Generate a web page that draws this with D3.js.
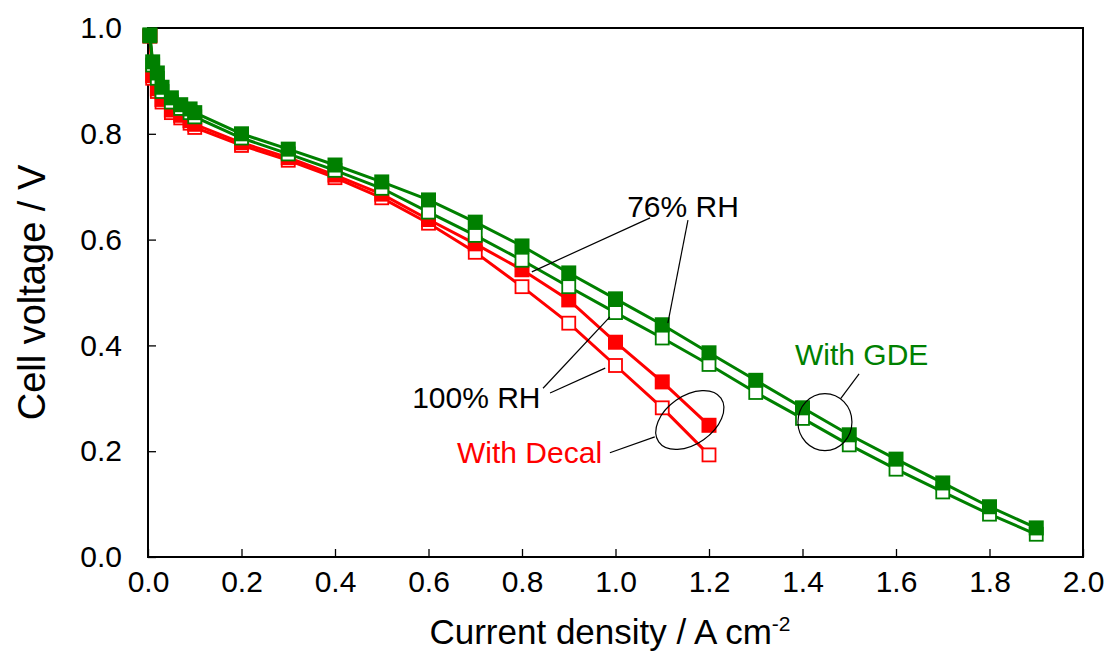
<!DOCTYPE html>
<html>
<head>
<meta charset="utf-8">
<script src="https://cdn.jsdelivr.net/npm/d3@7.9.0/dist/d3.min.js"></script>
<style>
  body { margin: 0; background: #fff; }
  svg { display: block; font-family: "Liberation Sans", Arial, sans-serif; }
</style>
</head>
<body>
<svg width="1107" height="655"></svg>
<script>
// current density (A cm-2) for each cell
const currentGDE = [0.004, 0.01, 0.02, 0.03, 0.05, 0.07, 0.09, 0.1, 0.2, 0.3, 0.4, 0.5, 0.6, 0.7, 0.8, 0.9, 1.0, 1.1, 1.2, 1.3, 1.4, 1.5, 1.6, 1.7, 1.8, 1.9];
const currentDecal = [0.004, 0.01, 0.02, 0.03, 0.05, 0.07, 0.09, 0.1, 0.2, 0.3, 0.4, 0.5, 0.6, 0.7, 0.8, 0.9, 1.0, 1.1, 1.2];

// cell voltage (V)
const gde76 = [0.987, 0.936, 0.915, 0.888, 0.868, 0.855, 0.847, 0.840, 0.800, 0.771, 0.741, 0.709, 0.675, 0.633, 0.588, 0.537, 0.488, 0.439, 0.386, 0.334, 0.282, 0.231, 0.185, 0.140, 0.095, 0.055];
const gde100 = [0.985, 0.930, 0.905, 0.880, 0.860, 0.848, 0.840, 0.832, 0.792, 0.762, 0.731, 0.697, 0.652, 0.608, 0.561, 0.511, 0.462, 0.414, 0.364, 0.311, 0.262, 0.212, 0.166, 0.123, 0.081, 0.043];
const decal76 = [0.985, 0.910, 0.885, 0.865, 0.845, 0.835, 0.825, 0.818, 0.783, 0.755, 0.722, 0.686, 0.638, 0.592, 0.543, 0.486, 0.406, 0.331, 0.249];
const decal100 = [0.985, 0.905, 0.880, 0.860, 0.840, 0.830, 0.820, 0.812, 0.778, 0.750, 0.717, 0.679, 0.631, 0.576, 0.511, 0.442, 0.362, 0.282, 0.193];

const xTicks = [0, 0.2, 0.4, 0.6, 0.8, 1.0, 1.2, 1.4, 1.6, 1.8, 2.0];
const yTicks = [0, 0.2, 0.4, 0.6, 0.8, 1.0];

const red = '#ff0000';
const green = '#008000';

// drawing order: red first, green on top; open markers under filled ones
const series = [
  { x: currentDecal, y: decal100, color: red, filled: false },
  { x: currentDecal, y: decal76, color: red, filled: true },
  { x: currentGDE, y: gde100, color: green, filled: false },
  { x: currentGDE, y: gde76, color: green, filled: true }
];

const margin = { left: 148, top: 28, right: 24, bottom: 98 };
const W = 1107, H = 655;

const x = d3.scaleLinear().domain([0, 2]).range([margin.left, W - margin.right]);
const y = d3.scaleLinear().domain([0, 1]).range([H - margin.bottom, margin.top]);

const svg = d3.select('svg');

// axes with inward ticks
const xAxis = svg.append('g')
  .attr('transform', `translate(0,${y(0)})`)
  .call(d3.axisBottom(x).tickValues(xTicks).tickFormat(d3.format('.1f')).tickSizeInner(-8).tickSizeOuter(0).tickPadding(14));
const yAxis = svg.append('g')
  .attr('transform', `translate(${x(0)},0)`)
  .call(d3.axisLeft(y).tickValues(yTicks).tickFormat(d3.format('.1f')).tickSizeInner(-8).tickSizeOuter(0).tickPadding(26));

[xAxis, yAxis].forEach(g => {
  g.select('.domain').remove();
  g.selectAll('.tick line').attr('stroke', '#000').attr('stroke-width', 1.3);
  g.selectAll('.tick text').attr('fill', '#000').style('font-size', '30px');
});
xAxis.selectAll('.tick text').attr('dy', '0.71em');

// frame
svg.append('rect')
  .attr('x', x(0)).attr('y', y(1))
  .attr('width', x(2) - x(0)).attr('height', y(0) - y(1))
  .attr('fill', 'none').attr('stroke', '#000').attr('stroke-width', 2);

// series
const line = d3.line().x(d => x(d[0])).y(d => y(d[1]));
const ms = 15;
series.forEach(s => {
  const pts = s.x.map((v, i) => [v, s.y[i]]);
  svg.append('path')
    .datum(pts)
    .attr('d', line)
    .attr('fill', 'none')
    .attr('stroke', s.color)
    .attr('stroke-width', 3);
  const size = s.filled ? ms : ms - 2;
  svg.append('g').selectAll('rect')
    .data(pts)
    .join('rect')
    .attr('x', d => x(d[0]) - size / 2)
    .attr('y', d => y(d[1]) - size / 2)
    .attr('width', size)
    .attr('height', size)
    .attr('fill', s.filled ? s.color : '#fff')
    .attr('stroke', s.color)
    .attr('stroke-width', s.filled ? 0 : 1.8);
});

// annotations, placed in data units
const labels = [
  { text: '76% RH', at: [1.025, 0.643], color: '#000' },
  { text: '100% RH', at: [0.565, 0.282], color: '#000' },
  { text: 'With Decal', at: [0.661, 0.178], color: red },
  { text: 'With GDE', at: [1.384, 0.363], color: green }
];
const leaders = [
  [[1.074, 0.641], [0.821, 0.539]],
  [[1.155, 0.637], [1.112, 0.442]],
  [[0.845, 0.319], [0.988, 0.454]],
  [[0.860, 0.310], [0.978, 0.357]],
  [[0.988, 0.197], [1.084, 0.227]],
  [[1.482, 0.300], [1.521, 0.346]]
];
const ellipses = [
  { c: [1.159, 0.259], rx: 38, ry: 24, rot: -35 },
  { c: [1.448, 0.255], rx: 27, ry: 28.5, rot: 0 }
];

svg.append('g').selectAll('line')
  .data(leaders)
  .join('line')
  .attr('x1', d => x(d[0][0])).attr('y1', d => y(d[0][1]))
  .attr('x2', d => x(d[1][0])).attr('y2', d => y(d[1][1]))
  .attr('stroke', '#000').attr('stroke-width', 1.2);

svg.append('g').selectAll('ellipse')
  .data(ellipses)
  .join('ellipse')
  .attr('transform', d => `translate(${x(d.c[0])},${y(d.c[1])}) rotate(${d.rot})`)
  .attr('rx', d => d.rx).attr('ry', d => d.ry)
  .attr('fill', 'none').attr('stroke', '#000').attr('stroke-width', 1.2);

svg.append('g').selectAll('text')
  .data(labels)
  .join('text')
  .attr('x', d => x(d.at[0])).attr('y', d => y(d.at[1]))
  .attr('fill', d => d.color)
  .style('font-size', '30px')
  .text(d => d.text);

// axis titles
const xTitle = svg.append('text')
  .attr('x', 610)
  .attr('y', 644)
  .attr('text-anchor', 'middle')
  .style('font-size', '35px');
xTitle.append('tspan').text('Current density / A cm');
xTitle.append('tspan').attr('dy', -13).style('font-size', '21px').text('-2');

svg.append('text')
  .attr('transform', `translate(45,${(y(0) + y(1)) / 2}) rotate(-90)`)
  .attr('text-anchor', 'middle')
  .style('font-size', '38px')
  .text('Cell voltage / V');
</script>
</body>
</html>
